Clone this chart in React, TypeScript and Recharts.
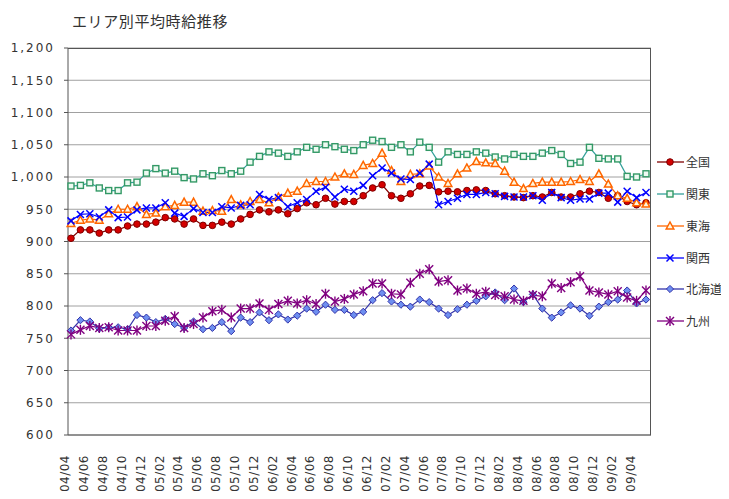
import { CartesianGrid, Line, LineChart, XAxis, YAxis } from 'recharts';

const months = [
  '04/04', '04/05', '04/06', '04/07', '04/08', '04/09', '04/10', '04/11', '04/12',
  '05/01', '05/02', '05/03', '05/04', '05/05', '05/06', '05/07', '05/08', '05/09', '05/10', '05/11', '05/12',
  '06/01', '06/02', '06/03', '06/04', '06/05', '06/06', '06/07', '06/08', '06/09', '06/10', '06/11', '06/12',
  '07/01', '07/02', '07/03', '07/04', '07/05', '07/06', '07/07', '07/08', '07/09', '07/10', '07/11', '07/12',
  '08/01', '08/02', '08/03', '08/04', '08/05', '08/06', '08/07', '08/08', '08/09', '08/10', '08/11', '08/12',
  '09/01', '09/02', '09/03', '09/04', '09/05',
];

const zenkoku = [
  905, 918, 918, 913, 918, 918, 924, 927, 927, 930, 937, 935, 927, 935, 925, 925, 930, 927, 935, 942,
  949, 946, 949, 943, 951, 960, 957, 967, 958, 962, 962, 971, 983, 988, 971, 967, 974, 986, 987, 977,
  978, 977, 979, 980, 979, 974, 971, 969, 968, 971, 969, 976, 969, 969, 974, 978, 976, 967, 971, 962,
  957, 960,
];
const kanto = [
  986, 987, 991, 983, 979, 979, 991, 992, 1006, 1013, 1006, 1009, 999, 997, 1005, 1002, 1010, 1005, 1009, 1023,
  1032, 1039, 1037, 1032, 1039, 1046, 1043, 1050, 1047, 1043, 1041, 1050, 1057, 1055, 1046, 1050, 1039, 1054, 1046, 1023,
  1039, 1035, 1035, 1039, 1037, 1031, 1028, 1035, 1032, 1032, 1037, 1041, 1035, 1021, 1023, 1046, 1029, 1028, 1028, 1001,
  1000, 1005,
];
const tokai = [
  928, 933, 935, 933, 943, 950, 950, 954, 942, 944, 954, 956, 961, 961, 947, 948, 947, 965, 957, 962,
  965, 960, 969, 975, 978, 990, 993, 993, 1000, 1005, 1004, 1018, 1021, 1037, 1010, 993, 1004, 1005, 1017, 1000,
  990, 1005, 1014, 1024, 1022, 1021, 1009, 992, 982, 990, 992, 992, 992, 993, 996, 993, 1005, 989, 971, 967,
  960, 958,
];
const kansai = [
  932, 942, 943, 938, 949, 937, 938, 949, 952, 952, 960, 944, 939, 951, 945, 945, 954, 952, 956, 957,
  973, 965, 968, 954, 960, 965, 978, 984, 969, 981, 978, 987, 1002, 1014, 1006, 997, 996, 1006, 1020, 957,
  962, 967, 973, 973, 976, 974, 970, 969, 969, 971, 964, 976, 968, 964, 966, 966, 975, 975, 961, 978,
  968, 976,
];
const hokkaido = [
  762, 778, 776, 765, 767, 767, 764, 786, 782, 775, 780, 772, 766, 776, 764, 766, 775, 761, 782, 775,
  790, 778, 787, 779, 785, 796, 791, 802, 794, 794, 786, 791, 809, 820, 807, 802, 799, 810, 806, 796,
  786, 795, 802, 808, 815, 821, 809, 827, 806, 818, 796, 782, 790, 801, 796, 785, 799, 806, 810, 824,
  804, 810,
];
const kyushu = [
  756, 763, 769, 766, 767, 762, 762, 762, 769, 769, 777, 784, 766, 772, 782, 792, 794, 782, 796, 796,
  804, 794, 803, 808, 804, 809, 803, 819, 807, 811, 818, 823, 835, 835, 819, 818, 836, 850, 857, 838,
  840, 824, 827, 819, 822, 817, 815, 810, 808, 817, 815, 835, 828, 837, 846, 824, 821, 818, 823, 813,
  808, 824,
];

const yTicks = [600, 650, 700, 750, 800, 850, 900, 950, 1000, 1050, 1100, 1150, 1200];

const data = months.map((m, i) => ({
  month: m,
  zenkoku: zenkoku[i],
  kanto: kanto[i],
  tokai: tokai[i],
  kansai: kansai[i],
  hokkaido: hokkaido[i],
  kyushu: kyushu[i],
}));

const font = '"DejaVu Sans", sans-serif';
const jpFont = '"Noto Sans CJK JP", sans-serif';

type MarkProps = { cx: number; cy: number };

function CircleMark({ cx, cy }: MarkProps) {
  return <circle cx={cx} cy={cy} r={3.3} fill="#d40000" stroke="#800000" strokeWidth={1} />;
}
function SquareMark({ cx, cy }: MarkProps) {
  return <rect x={cx - 3} y={cy - 3} width={6} height={6} fill="#eefaf2" stroke="#339966" strokeWidth={1.4} />;
}
function TriangleMark({ cx, cy }: MarkProps) {
  return (
    <polygon
      points={`${cx},${cy - 4} ${cx - 3.8},${cy + 3} ${cx + 3.8},${cy + 3}`}
      fill="#fff6dd"
      stroke="#ff6600"
      strokeWidth={1.5}
    />
  );
}
function CrossMark({ cx, cy }: MarkProps) {
  return (
    <g stroke="#0000ff" strokeWidth={1.5}>
      <line x1={cx - 3.5} y1={cy - 3.5} x2={cx + 3.5} y2={cy + 3.5} />
      <line x1={cx - 3.5} y1={cy + 3.5} x2={cx + 3.5} y2={cy - 3.5} />
    </g>
  );
}
function DiamondMark({ cx, cy }: MarkProps) {
  return (
    <polygon
      points={`${cx},${cy - 3.6} ${cx + 3.6},${cy} ${cx},${cy + 3.6} ${cx - 3.6},${cy}`}
      fill="#6e8ff0"
      stroke="#3333aa"
      strokeWidth={1}
    />
  );
}
function StarMark({ cx, cy }: MarkProps) {
  return (
    <g stroke="#800080" strokeWidth={1.4}>
      <line x1={cx - 4} y1={cy - 4} x2={cx + 4} y2={cy + 4} />
      <line x1={cx - 4} y1={cy + 4} x2={cx + 4} y2={cy - 4} />
      <line x1={cx} y1={cy - 5} x2={cx} y2={cy + 5} />
    </g>
  );
}

const series = [
  { key: 'zenkoku', name: '全国', color: '#800000', Mark: CircleMark },
  { key: 'kanto', name: '関東', color: '#33a09a', Mark: SquareMark },
  { key: 'tokai', name: '東海', color: '#ff6600', Mark: TriangleMark },
  { key: 'kansai', name: '関西', color: '#0000ff', Mark: CrossMark },
  { key: 'hokkaido', name: '北海道', color: '#3333aa', Mark: DiamondMark },
  { key: 'kyushu', name: '九州', color: '#800080', Mark: StarMark },
];

const legendTops = [162, 194, 226, 258, 289, 321];

function YTick(props: any) {
  const { x, y, payload } = props;
  return (
    <text x={x} y={y} dy="0.36em" textAnchor="end" fontFamily={font} fontSize={12} fill="#333" letterSpacing={2}>
      {payload.value.toLocaleString('en-US')}
    </text>
  );
}

function XTick(props: any) {
  const { x, y, payload } = props;
  return (
    <g transform={`translate(${x - 6},${y})`}>
      <text transform="rotate(-90)" textAnchor="end" dy="0.36em" fontFamily={font} fontSize={12} fill="#333" letterSpacing={0.5}>
        {payload.value}
      </text>
    </g>
  );
}

export default function App() {
  return (
    <div style={{ position: 'relative', margin: -8, width: 729, height: 499, overflow: 'hidden', background: '#fff' }}>
      <div
        style={{
          position: 'absolute',
          left: 4,
          top: 4,
          width: 760,
          height: 540,
          border: '2px solid #8a8a8a',
        }}
      />
      <div
        style={{
          position: 'absolute',
          left: 72,
          top: 11,
          fontFamily: jpFont,
          fontSize: 15,
          letterSpacing: 0.6,
          color: '#333',
          lineHeight: '20px',
        }}
      >
        エリア別平均時給推移
      </div>
      <div style={{ position: 'absolute', left: 0, top: 0 }}>
        <LineChart width={729} height={499} data={data} margin={{ top: 48, right: 78, bottom: 4, left: 8 }}>
          <CartesianGrid horizontal vertical={false} stroke="#a0a0a0" strokeWidth={1} />
          <XAxis
            dataKey="month"
            interval={1}
            height={60}
            tickSize={0}
            tickMargin={20}
            tickLine={false}
            axisLine={{ stroke: '#555' }}
            padding={{ left: 3, right: 5 }}
            tick={<XTick />}
          />
          <YAxis
            domain={[600, 1200]}
            ticks={yTicks}
            width={60}
            tickSize={4}
            tickMargin={9}
            axisLine={{ stroke: '#555' }}
            tickLine={{ stroke: '#555' }}
            tick={<YTick />}
            allowDataOverflow
          />
          {series.map((s) => (
            <Line
              key={s.key}
              dataKey={s.key}
              name={s.name}
              stroke={s.color}
              strokeWidth={1.2}
              isAnimationActive={false}
              dot={(p: any) => <s.Mark key={`${s.key}-${p.index}`} cx={p.cx} cy={p.cy} />}
            />
          ))}
        </LineChart>
      </div>
      <div
        style={{
          position: 'absolute',
          left: 68,
          top: 48,
          width: 583,
          height: 387,
          boxSizing: 'border-box',
          borderTop: '1px solid #555',
          borderRight: '1.5px solid #555',
          pointerEvents: 'none',
        }}
      />
      {series.map((s, i) => (
        <div
          key={s.key}
          style={{
            position: 'absolute',
            left: 657,
            top: legendTops[i] - 9,
            width: 72,
            height: 18,
            display: 'flex',
            alignItems: 'center',
            whiteSpace: 'nowrap',
          }}
        >
          <svg width={27} height={14} style={{ flex: 'none' }}>
            <line x1={0} y1={7} x2={27} y2={7} stroke={s.color} strokeWidth={1.3} />
            <s.Mark cx={13} cy={7} />
          </svg>
          <span style={{ marginLeft: 2, fontFamily: jpFont, fontSize: 12, lineHeight: '18px', color: '#333' }}>
            {s.name}
          </span>
        </div>
      ))}
    </div>
  );
}
